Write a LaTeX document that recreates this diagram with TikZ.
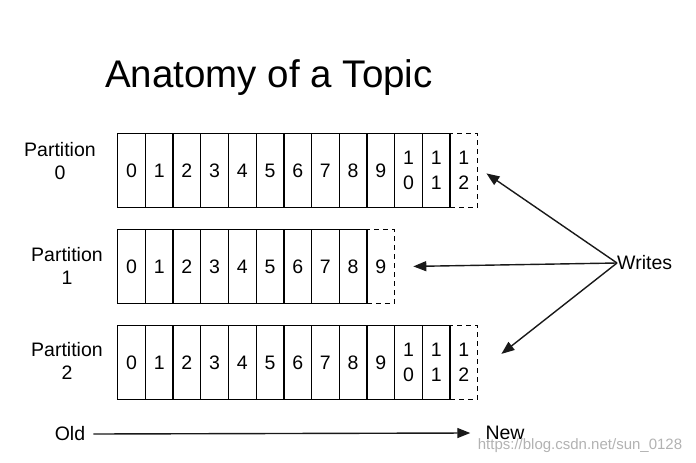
\documentclass[tikz,border=0pt]{standalone}
\usepackage{fontspec}
\setmainfont{Liberation Sans}
\usetikzlibrary{arrows.meta}
\begin{document}
\begin{tikzpicture}[x=1pt,y=-1pt,
  cell/.style={draw=black, line width=1.3pt, minimum width=27.7pt, minimum height=73.5pt,
    inner sep=0pt, anchor=north west, align=center, font=\fontsize{19.5}{25}\selectfont},
  newcell/.style={cell, dash pattern=on 5pt off 4pt},
  lbl/.style={font=\fontsize{19.5}{23}\selectfont, align=center, inner sep=0pt},
  arr/.style={line width=1.4pt, draw=black!90, -{Triangle[length=13pt,width=10pt]}}
]
\useasboundingbox (0,0) rectangle (696,463);

\node[font=\fontsize{38.5}{40}\selectfont, anchor=base, inner sep=0pt] (title) at (269,87) {Anatomy of a Topic};

% partition labels
\node[lbl] (p0) at (60,161) {Partition\\0};
\node[lbl] (p1) at (67,265.5) {Partition\\1};
\node[lbl] (p2) at (67,361) {Partition\\2};

% row 0
\node[newcell] (c0-12) at (117+12*27.7,133) {1\\2};
\foreach \i in {0,...,9} \node[cell] (c0-\i) at (117+\i*27.7,133) {\i};
\node[cell] (c0-10) at (117+10*27.7,133) {1\\0};
\node[cell] (c0-11) at (117+11*27.7,133) {1\\1};

% row 1
\node[newcell] (c1-9) at (117+9*27.7,229) {9};
\foreach \i in {0,...,8} \node[cell] (c1-\i) at (117+\i*27.7,229) {\i};

% row 2
\node[newcell] (c2-12) at (117+12*27.7,325) {1\\2};
\foreach \i in {0,...,9} \node[cell] (c2-\i) at (117+\i*27.7,325) {\i};
\node[cell] (c2-10) at (117+10*27.7,325) {1\\0};
\node[cell] (c2-11) at (117+11*27.7,325) {1\\1};

% writes
\node[lbl, anchor=west] (w) at (617,263) {Writes};
\draw[arr] (w.west) -- ([xshift=8pt,yshift=-3pt]c0-12.east);
\draw[arr] (w.west) -- ([xshift=18pt]c1-9.east);
\draw[arr] (w.west) -- ([xshift=23pt,yshift=8.5pt]c2-12.east);

% old -> new
\node[lbl] (old) at (70,434) {Old};
\node[lbl] (new) at (505,433) {New};
\draw[arr] ([xshift=8pt]old.east) -- ([xshift=-15pt]new.west);

% watermark
\node[font=\fontsize{15}{15}\selectfont, text=black!30, inner sep=0pt] (wm) at (580,446) {https://blog.csdn.net/sun\_0128};
\end{tikzpicture}
\end{document}
